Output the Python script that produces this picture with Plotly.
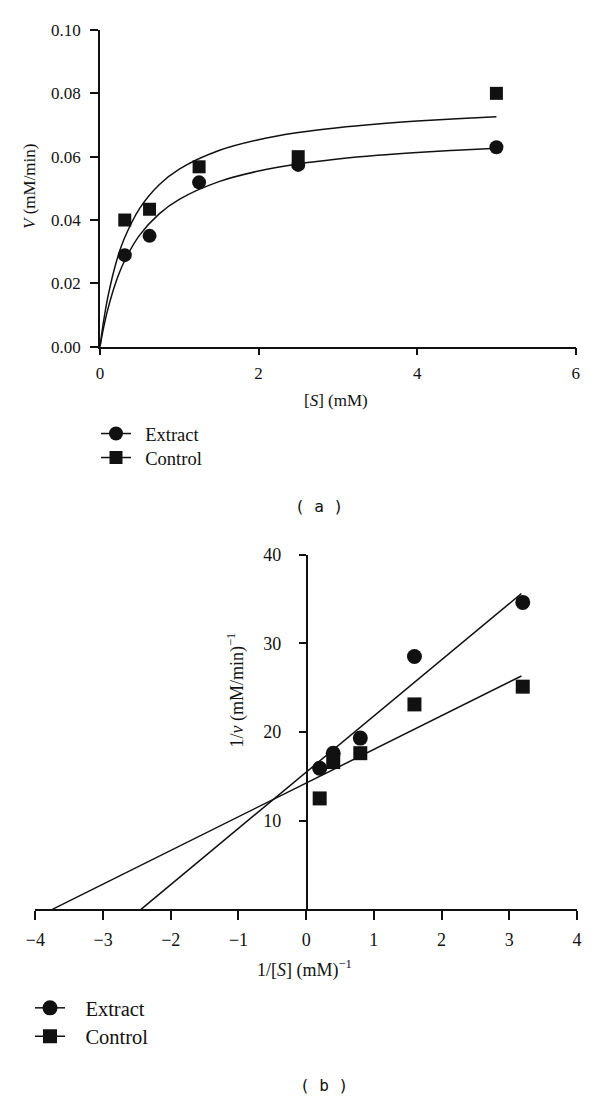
import plotly.graph_objects as go

# ---------------- data ----------------
# (a) Michaelis-Menten plot
s_mM = [0.3125, 0.625, 1.25, 2.5, 5.0]
v_extract = [0.0289, 0.0350, 0.0519, 0.0574, 0.0630]
v_control = [0.0400, 0.0434, 0.0568, 0.0600, 0.0800]

# fitted curves
fit_s = [0, 0.02, 0.05, 0.1, 0.2, 0.3, 0.5, 0.75, 1.0, 1.5, 2.0, 2.5, 3.0, 3.5, 4.0, 4.5, 5.0]
fit_extract = [0, 0.00278, 0.00655, 0.01195, 0.02036, 0.02659, 0.03522, 0.04203, 0.04654,
               0.05213, 0.05546, 0.0577, 0.05924, 0.06042, 0.06133, 0.06206, 0.0627]
fit_control = [0, 0.00376, 0.00878, 0.01579, 0.02628, 0.03375, 0.04369, 0.05124, 0.05609,
               0.06195, 0.06536, 0.0676, 0.06917, 0.07034, 0.07125, 0.07197, 0.0726]

# (b) Lineweaver-Burk plot
inv_s = [0.2, 0.4, 0.8, 1.6, 3.2]
inv_v_extract = [15.9, 17.6, 19.3, 28.5, 34.6]
inv_v_control = [12.5, 16.6, 17.6, 23.1, 25.1]

# regression line end points
lb_extract_x = [-2.44, 3.18]
lb_extract_y = [0.0, 35.6]
lb_control_x = [-3.75, 3.18]
lb_control_y = [0.0, 26.3]

series_names = ["Extract", "Control"]
x_ticks_a = [0, 2, 4, 6]
y_ticks_a = [0.00, 0.02, 0.04, 0.06, 0.08, 0.10]
x_ticks_b = [-4, -3, -2, -1, 0, 1, 2, 3, 4]
y_ticks_b = [10, 20, 30, 40]

# ---------------- figure ----------------
W, H = 600, 1101
SERIF = "Liberation Serif, Times New Roman, serif"
INK = "#111111"
NBSP = "\u00a0"

def px_x(p):
    return p / W

def px_y(p):
    return 1 - p / H

fig = go.Figure()

# top chart
fig.add_trace(go.Scatter(x=fit_s, y=fit_extract, mode="lines", line=dict(color=INK, width=1.5, shape="spline"),
                         xaxis="x", yaxis="y", showlegend=False, hoverinfo="skip"))
fig.add_trace(go.Scatter(x=fit_s, y=fit_control, mode="lines", line=dict(color=INK, width=1.5, shape="spline"),
                         xaxis="x", yaxis="y", showlegend=False, hoverinfo="skip"))
fig.add_trace(go.Scatter(x=s_mM, y=v_extract, mode="markers", marker=dict(symbol="circle", size=14, color=INK),
                         xaxis="x", yaxis="y", showlegend=False, cliponaxis=False))
fig.add_trace(go.Scatter(x=s_mM, y=v_control, mode="markers", marker=dict(symbol="square", size=13, color=INK),
                         xaxis="x", yaxis="y", showlegend=False, cliponaxis=False))

# bottom chart
fig.add_trace(go.Scatter(x=lb_extract_x, y=lb_extract_y, mode="lines", line=dict(color=INK, width=1.5),
                         xaxis="x2", yaxis="y2", showlegend=False, hoverinfo="skip"))
fig.add_trace(go.Scatter(x=lb_control_x, y=lb_control_y, mode="lines", line=dict(color=INK, width=1.5),
                         xaxis="x2", yaxis="y2", showlegend=False, hoverinfo="skip"))
fig.add_trace(go.Scatter(x=inv_s, y=inv_v_extract, mode="markers", marker=dict(symbol="circle", size=15, color=INK),
                         xaxis="x2", yaxis="y2", showlegend=False, cliponaxis=False))
fig.add_trace(go.Scatter(x=inv_s, y=inv_v_control, mode="markers", marker=dict(symbol="square", size=14, color=INK),
                         xaxis="x2", yaxis="y2", showlegend=False, cliponaxis=False))

# legend entries: one legend per entry so each can be placed exactly
legend_specs = [
    # legend id, name, symbol, marker size, left px, centre y px, font size, padding spaces
    ("legend", series_names[0], "circle", 14, 96, 434, 18.5, 2),
    ("legend2", series_names[1], "square", 13, 96, 458, 18.5, 2),
    ("legend3", series_names[0], "circle", 15, 30, 1008, 20.5, 3),
    ("legend4", series_names[1], "square", 14, 30, 1036.5, 20.5, 3),
]
legend_layout = {}
for lid, name, sym, msz, lx, ly, fsz, pad in legend_specs:
    fig.add_trace(go.Scatter(x=[None], y=[None], mode="lines+markers", name=NBSP * pad + name,
                             line=dict(color=INK, width=1.5), marker=dict(symbol=sym, size=msz, color=INK),
                             xaxis="x", yaxis="y", legend=lid, showlegend=True))
    legend_layout[lid] = dict(x=px_x(lx), y=px_y(ly), xanchor="left", yanchor="middle",
                              font=dict(family=SERIF, size=fsz, color=INK), bgcolor="rgba(0,0,0,0)",
                              borderwidth=0, itemwidth=30)

axis_common = dict(showgrid=False, zeroline=False, showline=True, linecolor=INK, linewidth=1.5,
                   ticks="outside", tickcolor=INK, tickwidth=1.5, automargin=False)

def ann(text, x, y, size=17, angle=0, family=SERIF):
    return dict(text=text, x=px_x(x), y=px_y(y), xref="paper", yref="paper",
                xanchor="center", yanchor="middle", textangle=angle, showarrow=False,
                font=dict(family=family, size=size, color=INK))

fig.update_layout(
    template="none",
    width=W, height=H, autosize=False,
    margin=dict(l=0, r=0, t=0, b=0, pad=0),
    paper_bgcolor="white", plot_bgcolor="white",
    font=dict(family=SERIF, color=INK),
    xaxis=dict(domain=[px_x(100), px_x(575.7)], range=[0, 6], anchor="y",
               tickvals=x_ticks_a, ticklen=7, ticklabelstandoff=3,
               tickfont=dict(family=SERIF, size=17, color=INK), **axis_common),
    yaxis=dict(domain=[px_y(346.7), px_y(30)], range=[0, 0.10], anchor="x",
               tickvals=y_ticks_a, tickformat=".2f", ticklen=8, ticklabelstandoff=6,
               tickfont=dict(family=SERIF, size=17, color=INK), **axis_common),
    xaxis2=dict(domain=[px_x(35.4), px_x(576.9)], range=[-4, 4], anchor="y2",
                tickvals=x_ticks_b, ticklen=9, ticklabelstandoff=4,
                tickfont=dict(family=SERIF, size=18, color=INK), **axis_common),
    yaxis2=dict(domain=[px_y(909.3), px_y(554.5)], range=[0, 40], anchor="free",
                position=px_x(306.5), tickvals=y_ticks_b, ticklen=7, ticklabelstandoff=14,
                tickfont=dict(family=SERIF, size=18, color=INK), **axis_common),
    annotations=[
        ann("<i>V</i> (mM/min)", 30, 187, 17, -90),
        ann("[<i>S</i>] (mM)", 336, 401, 17),
        ann("( a )", 319, 506, 16, 0, "DejaVu Sans Mono, monospace"),
        ann("1/<i>v</i> (mM/min)<sup>−1</sup>", 236.5, 690, 18, -90),
        ann("1/[<i>S</i>] (mM)<sup>−1</sup>", 304, 969, 18),
        ann("( b )", 324, 1085, 16, 0, "DejaVu Sans Mono, monospace"),
    ],
    **legend_layout,
)

fig.write_html("out.html", config={"displayModeBar": False},
               post_script="document.body.style.margin='0px';")
